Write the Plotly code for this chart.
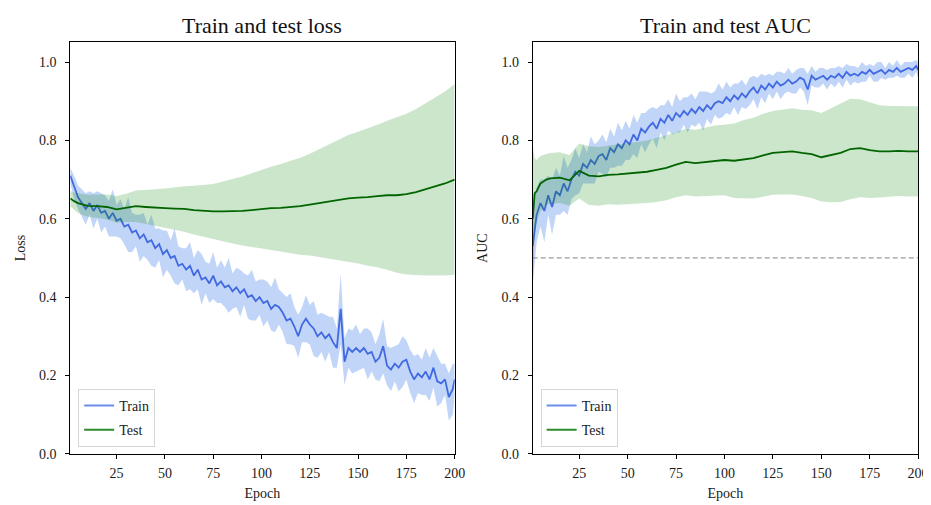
import numpy as np
import plotly.graph_objects as go

# ---------------- data ----------------
train_epochs = list(range(1, 200, 2)) + [200]

train_loss_mean = [
    0.71, 0.68, 0.655, 0.64, 0.625, 0.64, 0.62, 0.635, 0.615, 0.62,
    0.60, 0.615, 0.595, 0.60, 0.58, 0.585, 0.565, 0.57, 0.55, 0.56,
    0.54, 0.545, 0.525, 0.535, 0.51, 0.52, 0.50, 0.505, 0.48, 0.485,
    0.47, 0.48, 0.455, 0.47, 0.445, 0.45, 0.435, 0.455, 0.43, 0.44,
    0.425, 0.43, 0.415, 0.425, 0.41, 0.42, 0.40, 0.405, 0.39, 0.40,
    0.385, 0.39, 0.37, 0.38, 0.375, 0.36, 0.34, 0.345, 0.325, 0.30,
    0.33, 0.345, 0.33, 0.32, 0.30, 0.31, 0.295, 0.305, 0.285, 0.27,
    0.37, 0.235, 0.27, 0.26, 0.27, 0.26, 0.27, 0.255, 0.26, 0.235,
    0.245, 0.275, 0.225, 0.215, 0.23, 0.22, 0.235, 0.24, 0.21, 0.19,
    0.205, 0.195, 0.21, 0.19, 0.22, 0.185, 0.18, 0.19, 0.145, 0.165, 0.19,
]
train_loss_std = [
    0.02, 0.03, 0.03, 0.035, 0.04, 0.03, 0.045, 0.035, 0.05, 0.04,
    0.045, 0.06, 0.04, 0.05, 0.045, 0.07, 0.05, 0.04, 0.06, 0.055,
    0.045, 0.065, 0.05, 0.04, 0.06, 0.05, 0.045, 0.07, 0.05, 0.04,
    0.055, 0.06, 0.045, 0.05, 0.065, 0.04, 0.05, 0.06, 0.045, 0.055,
    0.05, 0.07, 0.045, 0.05, 0.06, 0.04, 0.055, 0.065, 0.05, 0.045,
    0.06, 0.05, 0.055, 0.07, 0.045, 0.05, 0.06, 0.065, 0.05, 0.055,
    0.045, 0.06, 0.05, 0.07, 0.055, 0.05, 0.06, 0.045, 0.065, 0.05,
    0.09, 0.06, 0.05, 0.055, 0.06, 0.045, 0.05, 0.065, 0.05, 0.045,
    0.06, 0.07, 0.05, 0.055, 0.045, 0.06, 0.065, 0.05, 0.055, 0.06,
    0.05, 0.045, 0.06, 0.055, 0.05, 0.065, 0.05, 0.04, 0.06, 0.065, 0.04,
]
train_auc_mean = [
    0.53, 0.61, 0.64, 0.62, 0.66, 0.63, 0.67, 0.66, 0.69, 0.67,
    0.70, 0.72, 0.71, 0.74, 0.73, 0.75, 0.74, 0.76, 0.765, 0.75,
    0.78, 0.77, 0.79, 0.78, 0.80, 0.79, 0.815, 0.80, 0.83, 0.82,
    0.835, 0.845, 0.83, 0.855, 0.845, 0.865, 0.85, 0.87, 0.86, 0.875,
    0.865, 0.88, 0.87, 0.885, 0.875, 0.89, 0.88, 0.895, 0.90, 0.895,
    0.91, 0.90, 0.915, 0.905, 0.92, 0.91, 0.925, 0.935, 0.92, 0.94,
    0.93, 0.945, 0.935, 0.95, 0.94, 0.945, 0.955, 0.945, 0.95, 0.96,
    0.955, 0.93, 0.965, 0.955, 0.96, 0.965, 0.955, 0.965, 0.96, 0.97,
    0.96, 0.975, 0.965, 0.97, 0.965, 0.975, 0.97, 0.98, 0.97, 0.975,
    0.98, 0.97, 0.98, 0.975, 0.985, 0.975, 0.98, 0.985, 0.98, 0.99, 0.98,
]
train_auc_std = [
    0.10, 0.07, 0.06, 0.08, 0.05, 0.07, 0.06, 0.05, 0.07, 0.06,
    0.05, 0.06, 0.045, 0.05, 0.04, 0.06, 0.05, 0.04, 0.05, 0.045,
    0.05, 0.04, 0.055, 0.045, 0.05, 0.04, 0.05, 0.045, 0.04, 0.05,
    0.045, 0.04, 0.05, 0.035, 0.045, 0.04, 0.035, 0.05, 0.04, 0.035,
    0.045, 0.04, 0.035, 0.04, 0.05, 0.035, 0.04, 0.03, 0.045, 0.035,
    0.04, 0.035, 0.03, 0.04, 0.035, 0.03, 0.035, 0.03, 0.04, 0.03,
    0.035, 0.025, 0.03, 0.025, 0.035, 0.025, 0.03, 0.025, 0.03, 0.025,
    0.03, 0.04, 0.025, 0.02, 0.025, 0.02, 0.025, 0.02, 0.025, 0.02,
    0.025, 0.02, 0.025, 0.02, 0.02, 0.025, 0.02, 0.015, 0.02, 0.025,
    0.02, 0.015, 0.02, 0.015, 0.02, 0.015, 0.02, 0.015, 0.02, 0.015, 0.02,
]

test_epochs = [1, 2, 3, 5, 8, 10, 15, 20, 25, 30, 35, 40, 45, 50, 55, 60, 65, 70,
               75, 80, 85, 90, 95, 100, 105, 110, 115, 120, 125, 130, 135, 140,
               145, 150, 155, 160, 165, 170, 175, 180, 185, 190, 195, 200]
test_loss_mean = [0.652, 0.648, 0.645, 0.64, 0.635, 0.633, 0.632, 0.63, 0.624, 0.628,
                  0.632, 0.63, 0.628, 0.627, 0.626, 0.625, 0.622, 0.62, 0.619, 0.619,
                  0.619, 0.62, 0.622, 0.625, 0.627, 0.628, 0.63, 0.632, 0.636, 0.64,
                  0.643, 0.648, 0.652, 0.654, 0.655, 0.658, 0.66, 0.66, 0.663, 0.668,
                  0.675, 0.683, 0.69, 0.70]
test_loss_std = [0.02, 0.02, 0.022, 0.025, 0.027, 0.028, 0.03, 0.032, 0.034, 0.036,
                 0.04, 0.043, 0.047, 0.05, 0.054, 0.058, 0.062, 0.066, 0.07, 0.076,
                 0.082, 0.088, 0.094, 0.10, 0.106, 0.112, 0.118, 0.124, 0.13, 0.138,
                 0.146, 0.154, 0.162, 0.168, 0.175, 0.182, 0.19, 0.198, 0.205, 0.212,
                 0.22, 0.228, 0.235, 0.243]
test_auc_mean = [0.60, 0.665, 0.67, 0.69, 0.70, 0.703, 0.705, 0.698, 0.722, 0.71,
                 0.708, 0.712, 0.713, 0.715, 0.718, 0.72, 0.725, 0.73, 0.738, 0.745,
                 0.742, 0.745, 0.748, 0.75, 0.748, 0.752, 0.755, 0.762, 0.768, 0.77,
                 0.772, 0.768, 0.765, 0.757, 0.762, 0.768, 0.778, 0.78, 0.775, 0.772,
                 0.772, 0.773, 0.772, 0.772]
test_auc_std = [0.185, 0.09, 0.08, 0.07, 0.065, 0.065, 0.065, 0.065, 0.07, 0.075,
                0.075, 0.075, 0.077, 0.078, 0.079, 0.08, 0.082, 0.083, 0.083, 0.085,
                0.085, 0.087, 0.09, 0.09, 0.095, 0.10, 0.103, 0.106, 0.107, 0.108,
                0.11, 0.11, 0.112, 0.113, 0.12, 0.125, 0.128, 0.125, 0.122, 0.118,
                0.116, 0.115, 0.115, 0.115]

chance_level = 0.5
y_ticks = [0.0, 0.2, 0.4, 0.6, 0.8, 1.0]
x_ticks = [25, 50, 75, 100, 125, 150, 175, 200]

# ---------------- styling ----------------
FONT = "Liberation Serif, Times New Roman, serif"
TRAIN_LINE = "#4169E1"
TRAIN_FILL = "rgba(100,149,237,0.4)"
TEST_LINE = "#006400"
TEST_FILL = "rgba(0,128,0,0.2)"
TRAIN_LEG = "#6a8eea"
TEST_LEG = "#2e8b2e"
TXT = "#1a1a1a"

fig = go.Figure()


def add_band(x, mean, std, fill, line_color, xa, ya):
    m = np.array(mean)
    s = np.array(std)
    fig.add_trace(go.Scatter(x=x, y=m + s, mode="lines", line=dict(width=0, color=fill),
                             showlegend=False, hoverinfo="skip", xaxis=xa, yaxis=ya))
    fig.add_trace(go.Scatter(x=x, y=m - s, mode="lines", line=dict(width=0, color=fill),
                             fill="tonexty", fillcolor=fill, showlegend=False,
                             hoverinfo="skip", xaxis=xa, yaxis=ya))
    fig.add_trace(go.Scatter(x=x, y=m, mode="lines", line=dict(width=1.8, color=line_color),
                             showlegend=False, xaxis=xa, yaxis=ya))


# left: loss
add_band(train_epochs, train_loss_mean, train_loss_std, TRAIN_FILL, TRAIN_LINE, "x", "y")
add_band(test_epochs, test_loss_mean, test_loss_std, TEST_FILL, TEST_LINE, "x", "y")
# right: AUC
fig.add_trace(go.Scatter(x=[1, 200], y=[chance_level, chance_level], mode="lines",
                         line=dict(color="#808080", width=1, dash="5px,3px"),
                         showlegend=False, xaxis="x2", yaxis="y2"))
add_band(train_epochs, train_auc_mean, train_auc_std, TRAIN_FILL, TRAIN_LINE, "x2", "y2")
add_band(test_epochs, test_auc_mean, test_auc_std, TEST_FILL, TEST_LINE, "x2", "y2")

# legend entries
for lg, xa, ya in [("legend", "x", "y"), ("legend2", "x2", "y2")]:
    fig.add_trace(go.Scatter(x=[None], y=[None], mode="lines", name="Train",
                             line=dict(color=TRAIN_LEG, width=2), legend=lg,
                             legendgroup=lg + "a", xaxis=xa, yaxis=ya))
    fig.add_trace(go.Scatter(x=[None], y=[None], mode="lines", name="Test",
                             line=dict(color=TEST_LEG, width=2), legend=lg,
                             legendgroup=lg + "b", xaxis=xa, yaxis=ya))

W, H = 931, 505
left_dom = [63 / W, 452 / W]
right_dom = [531 / W, 921 / W]
y_dom = [1 - 453 / H, 1 - 35 / H]

axis_common = dict(showgrid=False, zeroline=False, showline=True, mirror=True,
                   linecolor="black", linewidth=1, ticks="outside", ticklen=4,
                   tickcolor="black", tickfont=dict(family=FONT, size=14, color=TXT))

xaxis_common = dict(range=[1, 200], tickvals=x_ticks, ticklabelstandoff=2,
                    title=dict(text="Epoch", font=dict(family=FONT, size=14, color=TXT),
                               standoff=8),
                    **axis_common)


def yaxis_kw(label):
    return dict(range=[0, 1.05], tickvals=y_ticks, tickformat=".1f", ticklabelstandoff=6,
                title=dict(text=label, font=dict(family=FONT, size=14, color=TXT),
                           standoff=10),
                **axis_common)


legend_common = dict(font=dict(family=FONT, size=14, color=TXT),
                     bgcolor="rgba(255,255,255,0.8)", bordercolor="#d6d6d6",
                     borderwidth=1, xanchor="left", yanchor="bottom",
                     tracegroupgap=3, itemwidth=30)

fig.update_layout(
    width=W, height=H,
    margin=dict(l=0, r=0, t=0, b=0),
    paper_bgcolor="white", plot_bgcolor="white",
    font=dict(family=FONT, color=TXT),
    xaxis=dict(domain=left_dom, anchor="y", **xaxis_common),
    yaxis=dict(domain=y_dom, anchor="x", **yaxis_kw("Loss")),
    xaxis2=dict(domain=right_dom, anchor="y2", **xaxis_common),
    yaxis2=dict(domain=y_dom, anchor="x2", **yaxis_kw("AUC")),
    legend=dict(x=71 / W, y=1 - 446 / H, **legend_common),
    legend2=dict(x=539 / W, y=1 - 446 / H, **legend_common),
    annotations=[
        dict(text="Train and test loss", x=(left_dom[0] + left_dom[1]) / 2, y=1 - 18 / H,
             xref="paper", yref="paper", showarrow=False, xanchor="center", yanchor="middle",
             font=dict(family=FONT, size=22, color="#111")),
        dict(text="Train and test AUC", x=(right_dom[0] + right_dom[1]) / 2, y=1 - 18 / H,
             xref="paper", yref="paper", showarrow=False, xanchor="center", yanchor="middle",
             font=dict(family=FONT, size=22, color="#111")),
    ],
)

fig.write_html("out.html")
